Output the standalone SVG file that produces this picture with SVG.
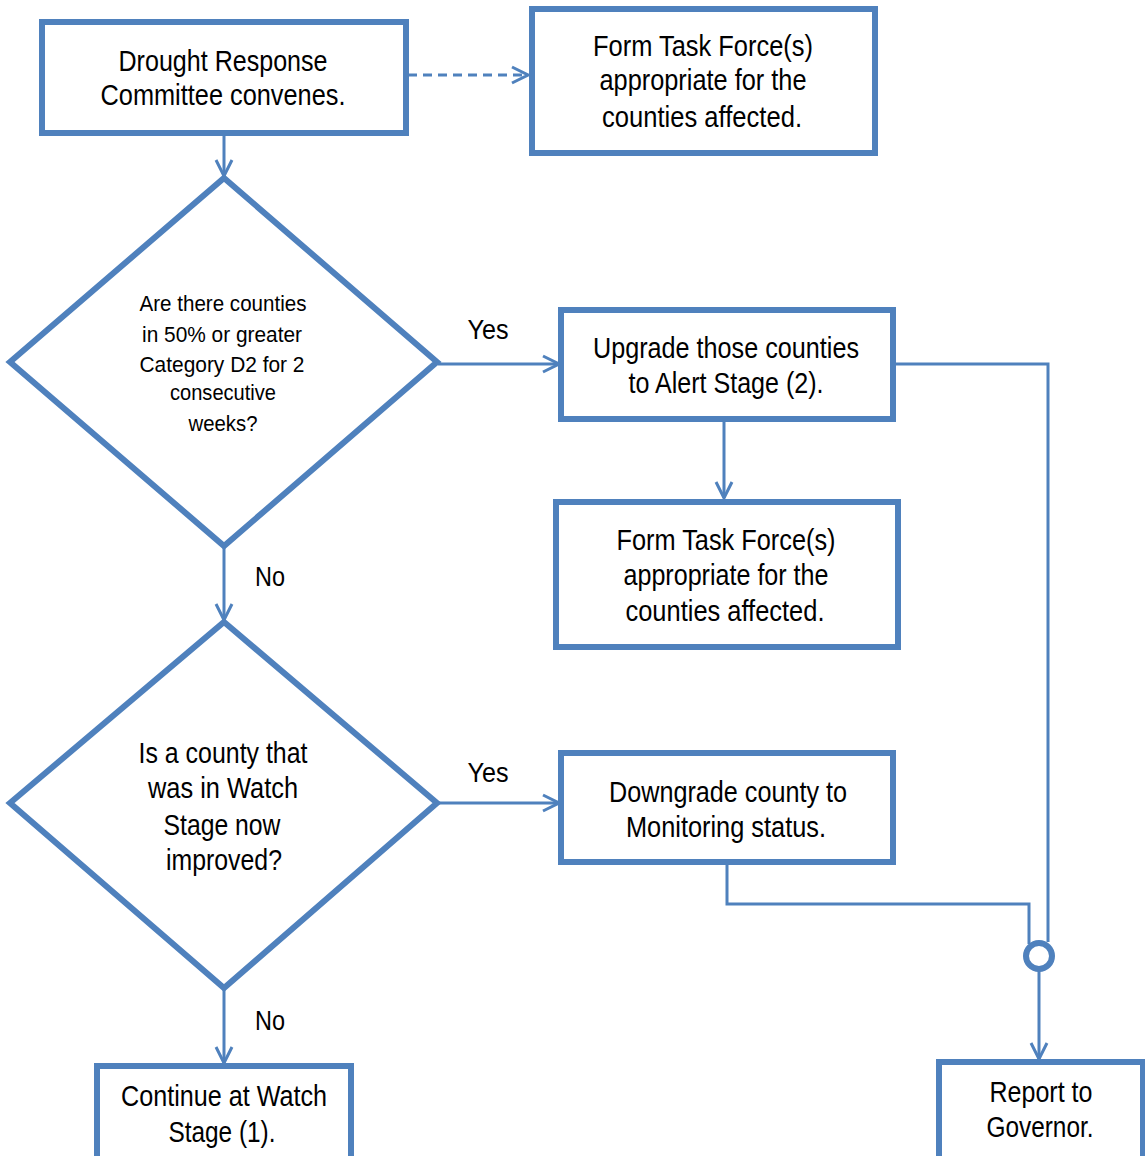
<svg xmlns="http://www.w3.org/2000/svg" width="1145" height="1156" viewBox="0 0 1145 1156">
<style>
.box{fill:#fff;stroke:#4F81BD;stroke-width:6}
.t{font-family:"Liberation Sans",Arial,sans-serif;font-size:29.5px;fill:#000;text-anchor:middle}
.s{font-size:22.5px}
.c{fill:none;stroke:#4F81BD;stroke-width:3}
.lbl{font-family:"Liberation Sans",Arial,sans-serif;font-size:27px;fill:#000;text-anchor:middle}
</style>
<defs>
<marker id="a" viewBox="0 0 20 20" refX="18" refY="10" markerWidth="20" markerHeight="20" markerUnits="userSpaceOnUse" orient="auto">
<path d="M2,2 L18,10 L2,18" fill="none" stroke="#4F81BD" stroke-width="3"/>
</marker>
</defs>
<rect width="1145" height="1156" fill="#fff"/>
<g id="connectors">
<path class="c" d="M408,75 H528" stroke-dasharray="9,6" marker-end="url(#a)"/>
<path class="c" d="M224,134 V176" marker-end="url(#a)"/>
<path class="c" d="M438,364 H559" marker-end="url(#a)"/>
<path class="c" d="M724,420 V498" marker-end="url(#a)"/>
<path class="c" d="M224,547 V620" marker-end="url(#a)"/>
<path class="c" d="M438,803 H559" marker-end="url(#a)"/>
<path class="c" d="M224,989 V1063" marker-end="url(#a)"/>
<path class="c" d="M894,364 H1048 V942"/>
<path class="c" d="M727,863 V904 H1029 V944"/>
<path class="c" d="M1039,970 V1059" marker-end="url(#a)"/>
<circle cx="1039" cy="956" r="13" fill="#fff" stroke="#4F81BD" stroke-width="6"/>
<text class="lbl" x="488" y="339" textLength="41" lengthAdjust="spacingAndGlyphs">Yes</text>
<text class="lbl" x="270" y="586" textLength="30" lengthAdjust="spacingAndGlyphs">No</text>
<text class="lbl" x="488" y="782" textLength="41" lengthAdjust="spacingAndGlyphs">Yes</text>
<text class="lbl" x="270" y="1030" textLength="30" lengthAdjust="spacingAndGlyphs">No</text>
</g>
<g id="n1">
<rect class="box" x="42" y="22" width="364" height="111"/>
<text class="t" x="223" y="71" textLength="209" lengthAdjust="spacingAndGlyphs">Drought Response</text>
<text class="t" x="223" y="105" textLength="245" lengthAdjust="spacingAndGlyphs">Committee convenes.</text>
</g>
<g id="n2">
<rect class="box" x="532" y="9" width="343" height="144"/>
<text class="t" x="703" y="56" textLength="220" lengthAdjust="spacingAndGlyphs">Form Task Force(s)</text>
<text class="t" x="703" y="90" textLength="207" lengthAdjust="spacingAndGlyphs">appropriate for the</text>
<text class="t" x="702" y="127" textLength="200" lengthAdjust="spacingAndGlyphs">counties affected.</text>
</g>
<g id="n3">
<polygon class="box" points="224,178 437,362 224,546 10,362"/>
<text class="t s" x="223" y="311" textLength="167" lengthAdjust="spacingAndGlyphs">Are there counties</text>
<text class="t s" x="222" y="342" textLength="160" lengthAdjust="spacingAndGlyphs">in 50% or greater</text>
<text class="t s" x="222" y="372" textLength="165" lengthAdjust="spacingAndGlyphs">Category D2 for 2</text>
<text class="t s" x="223" y="400" textLength="106" lengthAdjust="spacingAndGlyphs">consecutive</text>
<text class="t s" x="223" y="431" textLength="69" lengthAdjust="spacingAndGlyphs">weeks?</text>
</g>
<g id="n4">
<rect class="box" x="561" y="310" width="332" height="109"/>
<text class="t" x="726" y="358" textLength="266" lengthAdjust="spacingAndGlyphs">Upgrade those counties</text>
<text class="t" x="726" y="393" textLength="195" lengthAdjust="spacingAndGlyphs">to Alert Stage (2).</text>
</g>
<g id="n5">
<rect class="box" x="556" y="502" width="342" height="145"/>
<text class="t" x="726" y="550" textLength="219" lengthAdjust="spacingAndGlyphs">Form Task Force(s)</text>
<text class="t" x="726" y="585" textLength="205" lengthAdjust="spacingAndGlyphs">appropriate for the</text>
<text class="t" x="725" y="621" textLength="199" lengthAdjust="spacingAndGlyphs">counties affected.</text>
</g>
<g id="n6">
<polygon class="box" points="224,622 437,803 224,988 10,803"/>
<text class="t" x="223" y="763" textLength="169" lengthAdjust="spacingAndGlyphs">Is a county that</text>
<text class="t" x="223" y="798" textLength="150" lengthAdjust="spacingAndGlyphs">was in Watch</text>
<text class="t" x="222" y="835" textLength="117" lengthAdjust="spacingAndGlyphs">Stage now</text>
<text class="t" x="224" y="870" textLength="116" lengthAdjust="spacingAndGlyphs">improved?</text>
</g>
<g id="n7">
<rect class="box" x="561" y="753" width="332" height="109"/>
<text class="t" x="728" y="802" textLength="238" lengthAdjust="spacingAndGlyphs">Downgrade county to</text>
<text class="t" x="726" y="837" textLength="200" lengthAdjust="spacingAndGlyphs">Monitoring status.</text>
</g>
<g id="n8">
<rect class="box" x="97" y="1066" width="254" height="100"/>
<text class="t" x="224" y="1106" textLength="206" lengthAdjust="spacingAndGlyphs">Continue at Watch</text>
<text class="t" x="222" y="1142" textLength="107" lengthAdjust="spacingAndGlyphs">Stage (1).</text>
</g>
<g id="n9">
<rect class="box" x="939" y="1062" width="204" height="104"/>
<text class="t" x="1041" y="1102" textLength="103" lengthAdjust="spacingAndGlyphs">Report to</text>
<text class="t" x="1040" y="1137" textLength="107" lengthAdjust="spacingAndGlyphs">Governor.</text>
</g>
</svg>
